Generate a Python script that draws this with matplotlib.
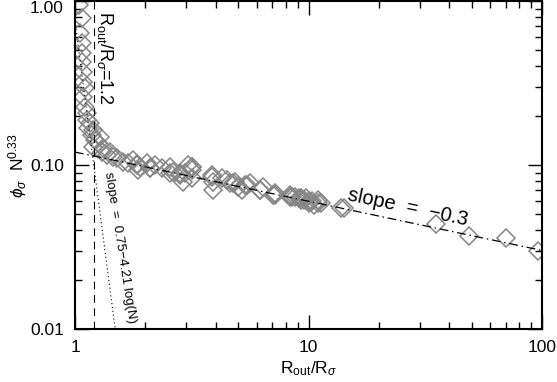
import numpy as np
import matplotlib
matplotlib.use("Agg")
import matplotlib.pyplot as plt
from matplotlib.ticker import FixedLocator, LogLocator, NullFormatter

plt.rcParams['font.family'] = ['Liberation Sans', 'DejaVu Sans']
plt.rcParams['mathtext.fontset'] = 'custom'
plt.rcParams['mathtext.rm'] = 'Liberation Sans'
plt.rcParams['mathtext.it'] = 'Liberation Sans:italic'

# measured points (R_out/R_sigma, phi_sigma N^0.33)
r_ratio = [1.040, 1.072, 1.051, 1.072, 1.072, 1.072, 1.082, 1.082, 1.104, 1.082,
           1.104, 1.126, 1.126, 1.160, 1.137, 1.195, 1.183, 1.280, 1.218, 1.255,
           1.195, 1.319, 1.306, 1.413, 1.372, 1.456, 1.514, 1.607, 1.688, 1.774,
           1.845, 1.901, 1.864, 2.037, 2.099, 2.204, 2.363, 2.557, 2.634, 2.823,
           3.055, 3.178,
           2.966, 3.178, 3.178, 2.908, 3.873, 3.911, 3.911, 4.275, 4.491, 4.627,
           4.861, 5.008, 5.473, 5.209, 6.223, 7.216, 8.370, 8.794, 9.059, 9.518,
           10.0, 10.51, 10.93, 11.26, 13.72, 14.13,
           5.638, 6.411, 7.216, 8.537, 9.241, 9.708, 10.40, 10.93, 35.08, 48.6,
           70.1, 96.1,
           1.845, 2.099, 2.557, 2.823, 3.178, 3.873, 4.766, 5.366, 6.223, 7.075,
           8.370, 9.241, 10.0]
phi_n = [0.945, 0.788, 0.638, 0.555, 0.482, 0.425, 0.369, 0.321, 0.295, 0.260,
         0.226, 0.208, 0.188, 0.180, 0.168, 0.163, 0.152, 0.148, 0.142, 0.136,
         0.129, 0.127, 0.120, 0.120, 0.115, 0.112, 0.110, 0.104, 0.103, 0.107,
         0.100, 0.097, 0.093, 0.103, 0.096, 0.100, 0.096, 0.097, 0.091, 0.089,
         0.100, 0.093,
         0.089, 0.097, 0.083, 0.079, 0.087, 0.079, 0.070, 0.083, 0.081, 0.078,
         0.079, 0.073, 0.076, 0.070, 0.070, 0.066, 0.066, 0.064, 0.063, 0.061,
         0.060, 0.057, 0.061, 0.059, 0.055, 0.055,
         0.078, 0.073, 0.068, 0.064, 0.063, 0.063, 0.060, 0.059, 0.044, 0.037,
         0.036, 0.030,
         0.102, 0.096, 0.089, 0.087, 0.097, 0.085, 0.078, 0.076, 0.070, 0.066,
         0.064, 0.061, 0.059]

# fitted power law y = 0.12 x^-0.3
fit_amp = 0.12
fit_slope = -0.3
# steep dotted relation
steep_amp = 0.75
steep_slope = -10.9
r_cut = 1.2

fig = plt.figure(figsize=(5.57, 3.82), dpi=100)
ax = fig.add_axes([0.1347, 0.1387, 0.8384, 0.8585])

ax.plot(r_ratio, phi_n, linestyle='none', marker='D', ms=9, mfc='none',
        mec='#858585', mew=1.1, zorder=2)

xf = np.array([1.0, 100.0])
ax.plot(xf, fit_amp * xf ** fit_slope, color='black', lw=0.9,
        dashes=(7, 3, 1.2, 3), zorder=3)

xs = np.linspace(1.0, (steep_amp / 0.01) ** (1 / -steep_slope), 50)
ax.plot(xs, steep_amp * xs ** steep_slope, color='black', lw=0.8,
        linestyle=(0, (1, 2.5)), zorder=3)

ax.plot([r_cut, r_cut], [0.01, 1.0], color='black', lw=0.8,
        dashes=(7, 5), zorder=3)

ax.set_xscale('log')
ax.set_yscale('log')
ax.set_xlim(1, 100)
ax.set_ylim(0.01, 1.0)

ax.xaxis.set_major_locator(FixedLocator([1, 10, 100]))
ax.set_xticklabels(['1', '10', '100'])
ax.yaxis.set_major_locator(FixedLocator([0.01, 0.1, 1.0]))
ax.set_yticklabels(['0.01', '0.10', '1.00'])
ax.xaxis.set_minor_locator(LogLocator(base=10, subs=np.arange(2, 10)))
ax.yaxis.set_minor_locator(LogLocator(base=10, subs=np.arange(2, 10)))
ax.xaxis.set_minor_formatter(NullFormatter())
ax.yaxis.set_minor_formatter(NullFormatter())
ax.tick_params(which='both', direction='in', top=True, right=True,
               labelsize=12.5, width=1.0)
ax.tick_params(which='major', length=10, pad=8)
ax.tick_params(which='minor', length=5)
ax.get_yticklabels()[-1].set_va('top')
for s in ax.spines.values():
    s.set_linewidth(1.5)

ax.set_xlabel(r'R$_{\rm out}$/R$_{\sigma}$', fontsize=12.5, labelpad=3)
ax.set_ylabel(r'$\phi_{\sigma}$  N$^{0.33}$', fontsize=12.5)
ax.yaxis.set_label_coords(-0.098, 0.50)

ax.text(1.345, 0.45, r'R$_{\rm out}$/R$_{\sigma}$=1.2', rotation=-90,
        fontsize=13, ha='center', va='center')
ax.text(14.5, 0.058, 'slope  =  \u22120.3', rotation=-12, fontsize=14.5,
        ha='left', va='bottom', rotation_mode='anchor')
ax.text(1.56, 0.0316, 'slope  =  0.75\u22124.21 log(N)', rotation=-81,
        fontsize=9.5, ha='center', va='center')

fig.savefig('out.png', dpi=100)
